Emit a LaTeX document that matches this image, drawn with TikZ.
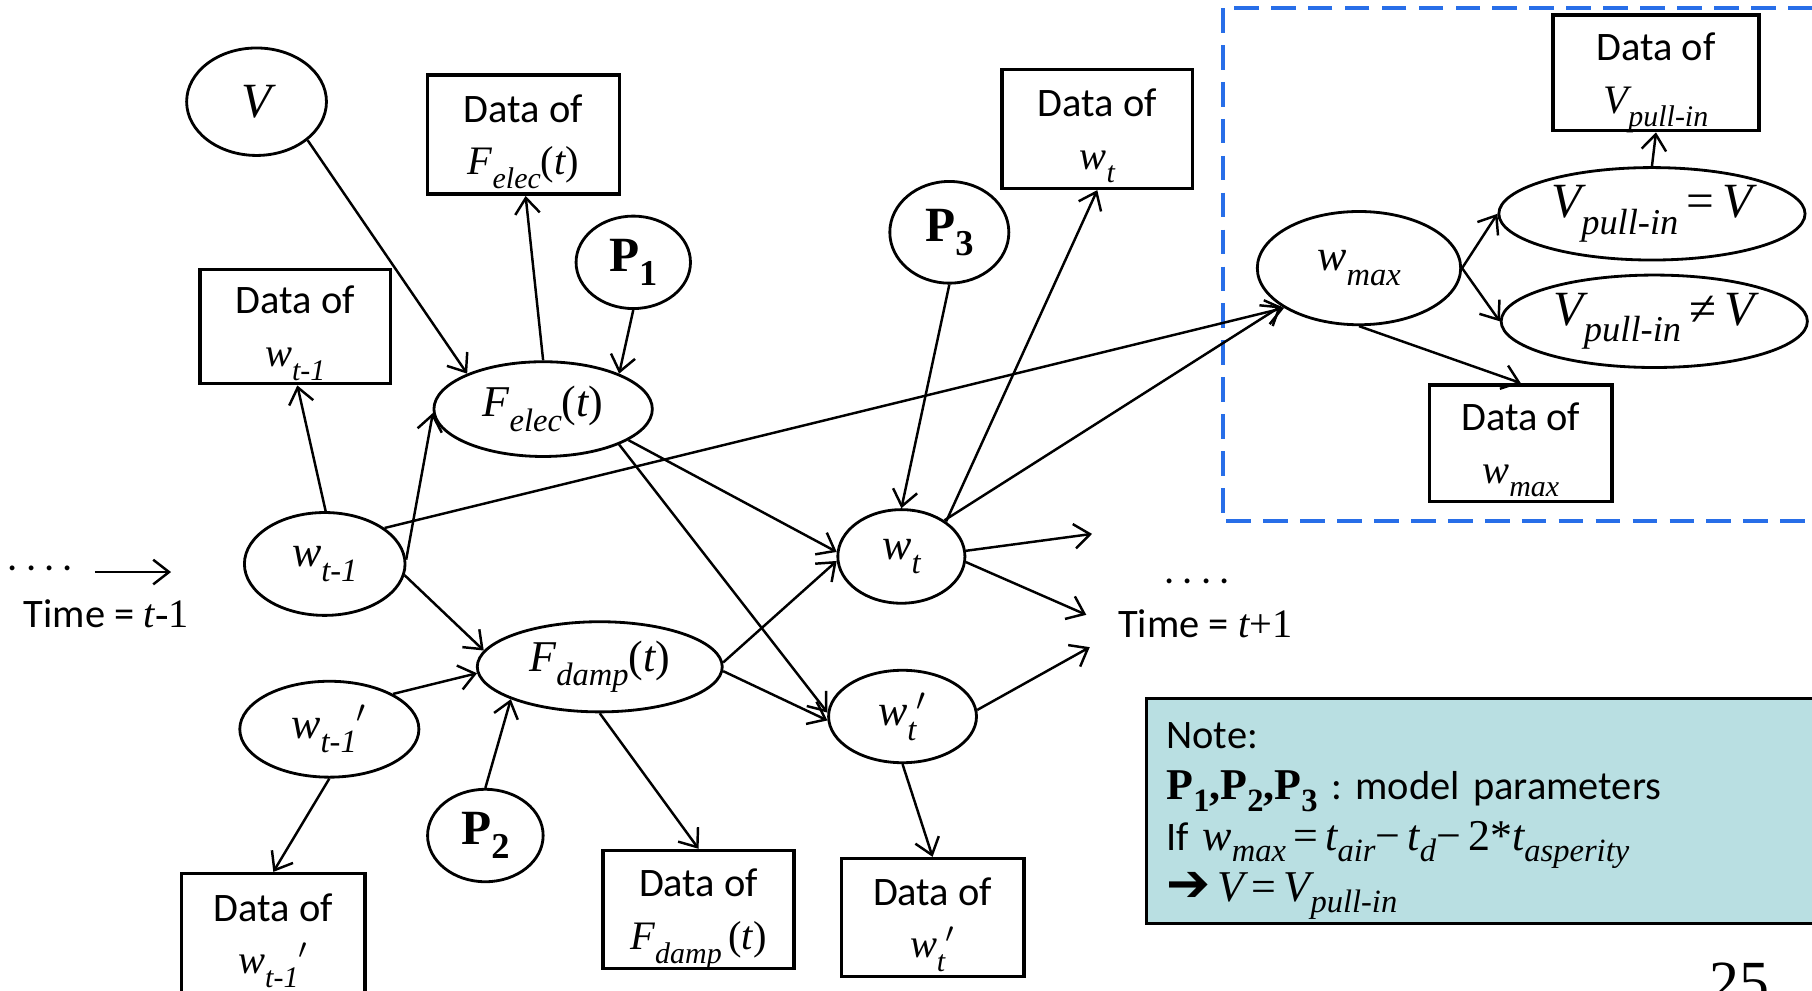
\documentclass[tikz,border=0pt]{standalone}
\usepackage{fontspec}
\usepackage{graphicx}
\setmainfont{Carlito}
\newfontfamily\tms{Liberation Serif}
\newfontfamily\djv{DejaVu Sans}
\usetikzlibrary{arrows.meta,shapes.geometric}
\definecolor{notecol}{RGB}{185,223,226}
\definecolor{dashblue}{RGB}{40,110,232}
\newcommand\mi[1]{{\tms\itshape #1}}
\newcommand\mr[1]{{\tms #1}}
\newcommand\lsub[1]{\raisebox{-0.7ex}{\scalebox{0.74}{\tms\itshape #1}}}
\newcommand\nsub[1]{\raisebox{-0.5ex}{\scalebox{0.74}{\tms\itshape #1}}}
\newcommand\bsub[1]{\raisebox{-0.6ex}{\scalebox{0.74}{\tms\bfseries #1}}}
\newcommand\prm{$^{\prime}$}
\newcommand\lowline[1]{\raisebox{0pt}[\height][0pt]{#1}}
\tikzset{
  sz/.style 2 args={minimum width=#1*0.011556cm, minimum height=#2*0.011556cm},
  ell/.style={draw, ellipse, line width=0.8pt, inner sep=0pt, font=\fontsize{12.5}{15}\selectfont},
  dbox/.style={draw, rectangle, line width=1pt, inner sep=0pt, align=center, font=\fontsize{11.5}{15}\selectfont},
  conn/.style={line width=0.7pt, -{Straight Barb[length=4.5pt,width=7pt]}},
  plain/.style={inner sep=0pt, font=\fontsize{11.5}{14}\selectfont},
}
\begin{document}
\begin{tikzpicture}[x=0.011556cm, y=-0.011556cm]
\useasboundingbox (0,0) rectangle (1568,857);
\clip (0,0) rectangle (1568,857);

% nodes
\node[ell, sz={121}{93}] (V) at (222,88) {\fontsize{14}{14}\selectfont\mi{V}};
\node[dbox, sz={166}{103}] (dFe) at (453,116.5) {Data of\\\lowline{\mi{F}\lsub{elec}\mr{(}\mi{t}\mr{)}}};
\node[ell, sz={99}{80}] (P1) at (548,227) {\fontsize{14}{14}\selectfont{\tms\bfseries P}\bsub{1}};
\node[dbox, sz={165}{99}] (dwm1) at (255.5,282.5) {Data of\\\lowline{\mi{w}\lsub{t-1}}};
\node[ell, sz={189}{82}] (Fe) at (470,354) {\mi{F}\lsub{elec}\mr{(}\mi{t}\mr{)}};
\node[ell, sz={139}{89}] (wm1) at (281,488) {\mi{w}\lsub{t-1}};
\node[ell, sz={155}{83}] (wm1p) at (285,631) {\mi{w}\lsub{t-1}\prm};
\node[ell, sz={212}{78}] (Fd) at (519,577) {\mi{F}\lsub{damp}\mr{(}\mi{t}\mr{)}};
\node[ell, sz={100}{80}] (P2) at (420,723) {\fontsize{14}{14}\selectfont{\tms\bfseries P}\bsub{2}};
\node[dbox, sz={159}{104}] (dwm1p) at (236.5,808) {Data of\\\lowline{\mi{w}\lsub{t-1}\prm}};
\node[dbox, sz={165}{102}] (dFd) at (604.5,787) {Data of\\\lowline{\mi{F}\lsub{damp}\,\mr{(}\mi{t}\mr{)}}};
\node[ell, sz={103}{88}] (P3) at (821.5,201) {\fontsize{14}{14}\selectfont{\tms\bfseries P}\bsub{3}};
\node[dbox, sz={165}{103}] (dwt) at (949.5,111.5) {Data of\\\lowline{\mi{w}\lsub{t}}};
\node[ell, sz={110}{81}] (wt) at (780,481.5) {\mi{w}\lsub{t}};
\node[ell, sz={128}{80}] (wtp) at (781,620) {\mi{w}\lsub{t}\prm};
\node[dbox, sz={158}{102}] (dwtp) at (807,794) {Data of\\\lowline{\mi{w}\lsub{t}\prm}};
\node[ell, sz={176}{98}] (wmax) at (1176,232) {\mi{w}\lsub{max}};
\node[ell, sz={265}{80}, font=\fontsize{14}{15}\selectfont] (Veq) at (1429.5,185) {\mi{V}\lsub{pull-in}\,\mr{=}\,\mi{V}};
\node[ell, sz={265}{80}, font=\fontsize{14}{15}\selectfont] (Vne) at (1431.5,278) {\mi{V}\lsub{pull-in}\,\mr{≠}\,\mi{V}};
\node[dbox, sz={178}{100}] (dVp) at (1433,63) {Data of\\\lowline{\mi{V}\lsub{pull-in}}};
\node[dbox, sz={158}{101}] (dwmax) at (1316,383.5) {Data of\\\lowline{\mi{w}\lsub{max}}};

% time labels
\node[plain] (ldots) at (35,492) {.\hspace{0.2em}.\hspace{0.2em}.\hspace{0.2em}.};
\coordinate (la) at (82,495);
\coordinate (lb) at (148,495);
\node[plain] (ltime) at (92,531) {Time = \mi{t}\mr{-1}};
\node[plain] (rdots) at (1036,503) {.\hspace{0.2em}.\hspace{0.2em}.\hspace{0.2em}.};
\node[plain] (rtime) at (1043,540) {Time = \mi{t}\mr{+1}};
\coordinate (o1) at (945,462);
\coordinate (o2) at (940,532);
\coordinate (o3) at (943,560);

% dashed region
\draw[dashblue, line width=1.1pt, dash pattern=on 7pt off 3.5pt] (1058,7) rectangle (1620,451);

% note
\node[draw, fill=notecol, line width=0.9pt, anchor=north west, sz={640}{195},
      inner xsep=17*0.011556cm, inner ysep=0pt, text width=606*0.011556cm, align=left,
      font=\fontsize{11.5}{14.5}\selectfont\frenchspacing] (note) at (991,603)
  {\rule{0pt}{13pt}Note:\\
   {\fontsize{12.5}{14}\selectfont\tms\bfseries P\bsub{1},P\bsub{2},P\bsub{3}} : model parameters\\
   If {\fontsize{12.5}{14.5}\selectfont\mi{w}\nsub{max}\,\mr{=}\,\mi{t}\nsub{air}\mr{−}\,\mi{t}\nsub{d}\mr{−}\,\mr{2*}\mi{t}\nsub{asperity}}\\
   {\fontsize{15}{14.5}\selectfont\djv\bfseries ➔}\,{\fontsize{12.5}{14.5}\selectfont\mi{V}\,\mr{=}\,\mi{V}\nsub{pull-in}}};

\node[inner sep=0pt, anchor=north, font=\fontsize{17}{17}\selectfont] (pg) at (1505,833) {\tms 25};

% connectors
\draw[conn] (V.-37) -- (Fe.155);
\draw[conn] (Fe.90) -- (dFe.-88);
\draw[conn] (P1.-90) -- (Fe.25);
\draw[conn] (wm1.89) -- (dwm1.-88);
\draw[conn] (wm1.3) -- (Fe.182);
\draw[conn] (wm1.31) -- (wmax.208);
\draw[conn] (wm1.-8) -- (Fd.172);
\draw[conn] (wm1p.29) -- (Fd.183);
\draw[conn] (P2.90) -- (Fd.200);
\draw[conn] (wm1p.-90) -- (dwm1p.90);
\draw[conn] (Fd.-90) -- (dFd.90);
\draw[conn] (Fe.-20) -- (wt.176);
\draw[conn] (Fe.-25) -- (wtp.177);
\draw[conn] (Fd.2) -- (wt.184);
\draw[conn] (Fd.-2) -- (wtp.183);
\draw[conn] (P3.-90) -- (wt.90);
\draw[conn] (wt.38) -- (dwt.-90);
\draw[conn] (wt.40) -- (wmax.206);
\draw[conn] (wt.5) -- (o1);
\draw[conn] (wt.-5) -- (o2);
\draw[conn] (wtp.5) -- (o3);
\draw[conn] (wtp.-90) -- (dwtp.90);
\draw[conn] (wmax.0) -- (Veq.180);
\draw[conn] (wmax.0) -- (Vne.180);
\draw[conn] (Veq.90) -- (dVp.-90);
\draw[conn] (wmax.-90) -- (dwmax.90);
\draw[conn] (la) -- (lb);
\end{tikzpicture}
\end{document}
